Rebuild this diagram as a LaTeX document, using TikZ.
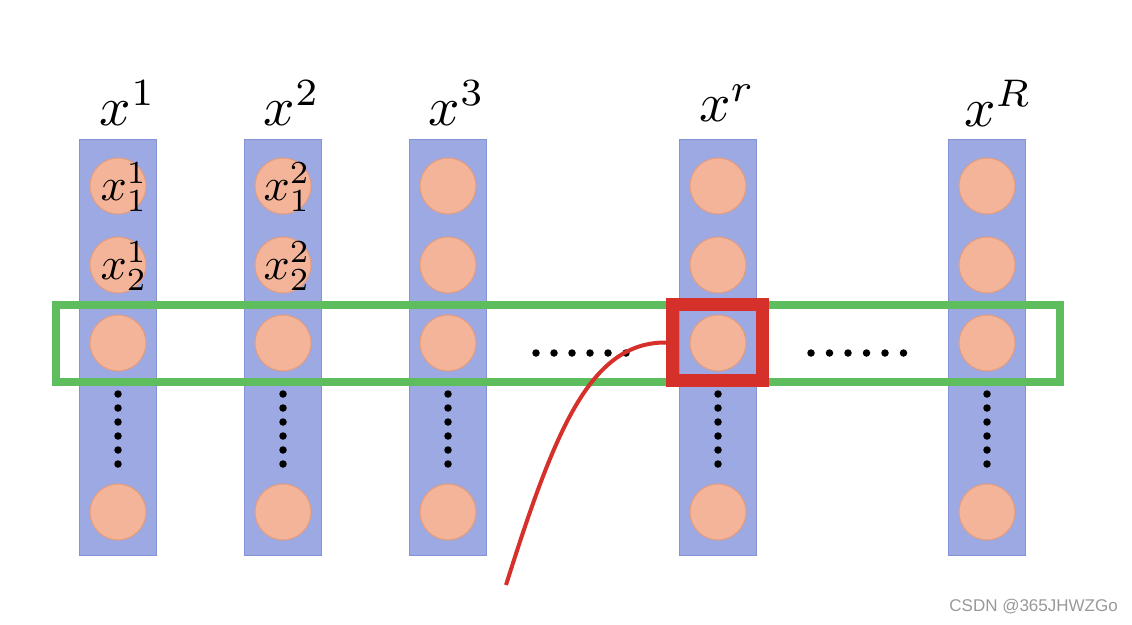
\documentclass[tikz,border=0pt]{standalone}
\usepackage{graphicx}
\usepackage{fontspec}
\newfontfamily\wmfont{Liberation Sans}
\definecolor{colfill}{HTML}{9DA9E2}
\definecolor{coldraw}{HTML}{8492D8}
\definecolor{nodefill}{HTML}{F3B49A}
\definecolor{nodedraw}{HTML}{E59C7C}
\definecolor{grn}{HTML}{5EBE5E}
\definecolor{rd}{HTML}{D6302A}
\newcommand{\biglab}[1]{\scalebox{5.5}{$#1$}}
\newcommand{\inlab}[1]{\scalebox{4.6}{$#1$}}
\tikzset{
  colbox/.style={rectangle, fill=colfill, draw=coldraw, line width=1pt, minimum width=77pt, minimum height=416pt, inner sep=0pt},
  unit/.style={circle, fill=nodefill, draw=nodedraw, line width=1pt, minimum size=56pt, inner sep=0pt},
  toplabel/.style={inner sep=0pt},
  inlabel/.style={inner sep=0pt},
  dotmark/.style={circle, fill=black, minimum size=7.5pt, inner sep=0pt},
  wm/.style={font=\wmfont\fontsize{17}{20}\selectfont, text=gray!80, inner sep=0pt}
}
\begin{document}
\begin{tikzpicture}[x=1pt,y=-1pt]
\useasboundingbox (0,0) rectangle (1132,624);
% columns
\foreach \n/\cx in {1/118,2/283,3/448,4/718,5/987}{
  \node[colbox] (c\n) at (\cx,347) {};
  \foreach \r/\ry in {1/186,2/265,3/343,4/512}{
    \node[unit] (u\n\r) at (\cx,\ry) {};
  }
  \foreach \k in {0,...,5}{
    \node[dotmark] (v\n\k) at (\cx,{394+\k*14}) {};
  }
}
% labels
\node[toplabel] (l1) at (128,103) {\biglab{x^{1}}};
\node[toplabel] (l2) at (292,103) {\biglab{x^{2}}};
\node[toplabel] (l3) at (457,103) {\biglab{x^{3}}};
\node[toplabel] (l4) at (727,103) {\biglab{x^{r}}};
\node[toplabel] (l5) at (998,103) {\biglab{x^{R}}};
\node[inlabel] (i11) at (124,187) {\inlab{x_1^1}};
\node[inlabel] (i12) at (124,266) {\inlab{x_2^1}};
\node[inlabel] (i21) at (287,187) {\inlab{x_1^2}};
\node[inlabel] (i22) at (287,266) {\inlab{x_2^2}};
% green box
\draw[grn, line width=8pt] (56,305) rectangle (1060,382);
% horizontal dots
\foreach \k in {0,...,5}{
  \node[dotmark] (ha\k) at ({536+\k*18},353) {};
  \node[dotmark] (hb\k) at ({811+\k*18.5},353) {};
}
% red box
\node[rectangle, draw=rd, line width=13pt, minimum width=90pt, minimum height=76pt, inner sep=0pt] (rb) at (717.5,342.5) {};
% red curve
\coordinate (cs) at (506,585);
\draw[rd, line width=4pt] (cs) .. controls (555,430) and (590,342) .. (rb.west);
% watermark
\node[wm, anchor=east] (wm) at (1118,607) {CSDN @365JHWZGo};
\end{tikzpicture}
\end{document}
